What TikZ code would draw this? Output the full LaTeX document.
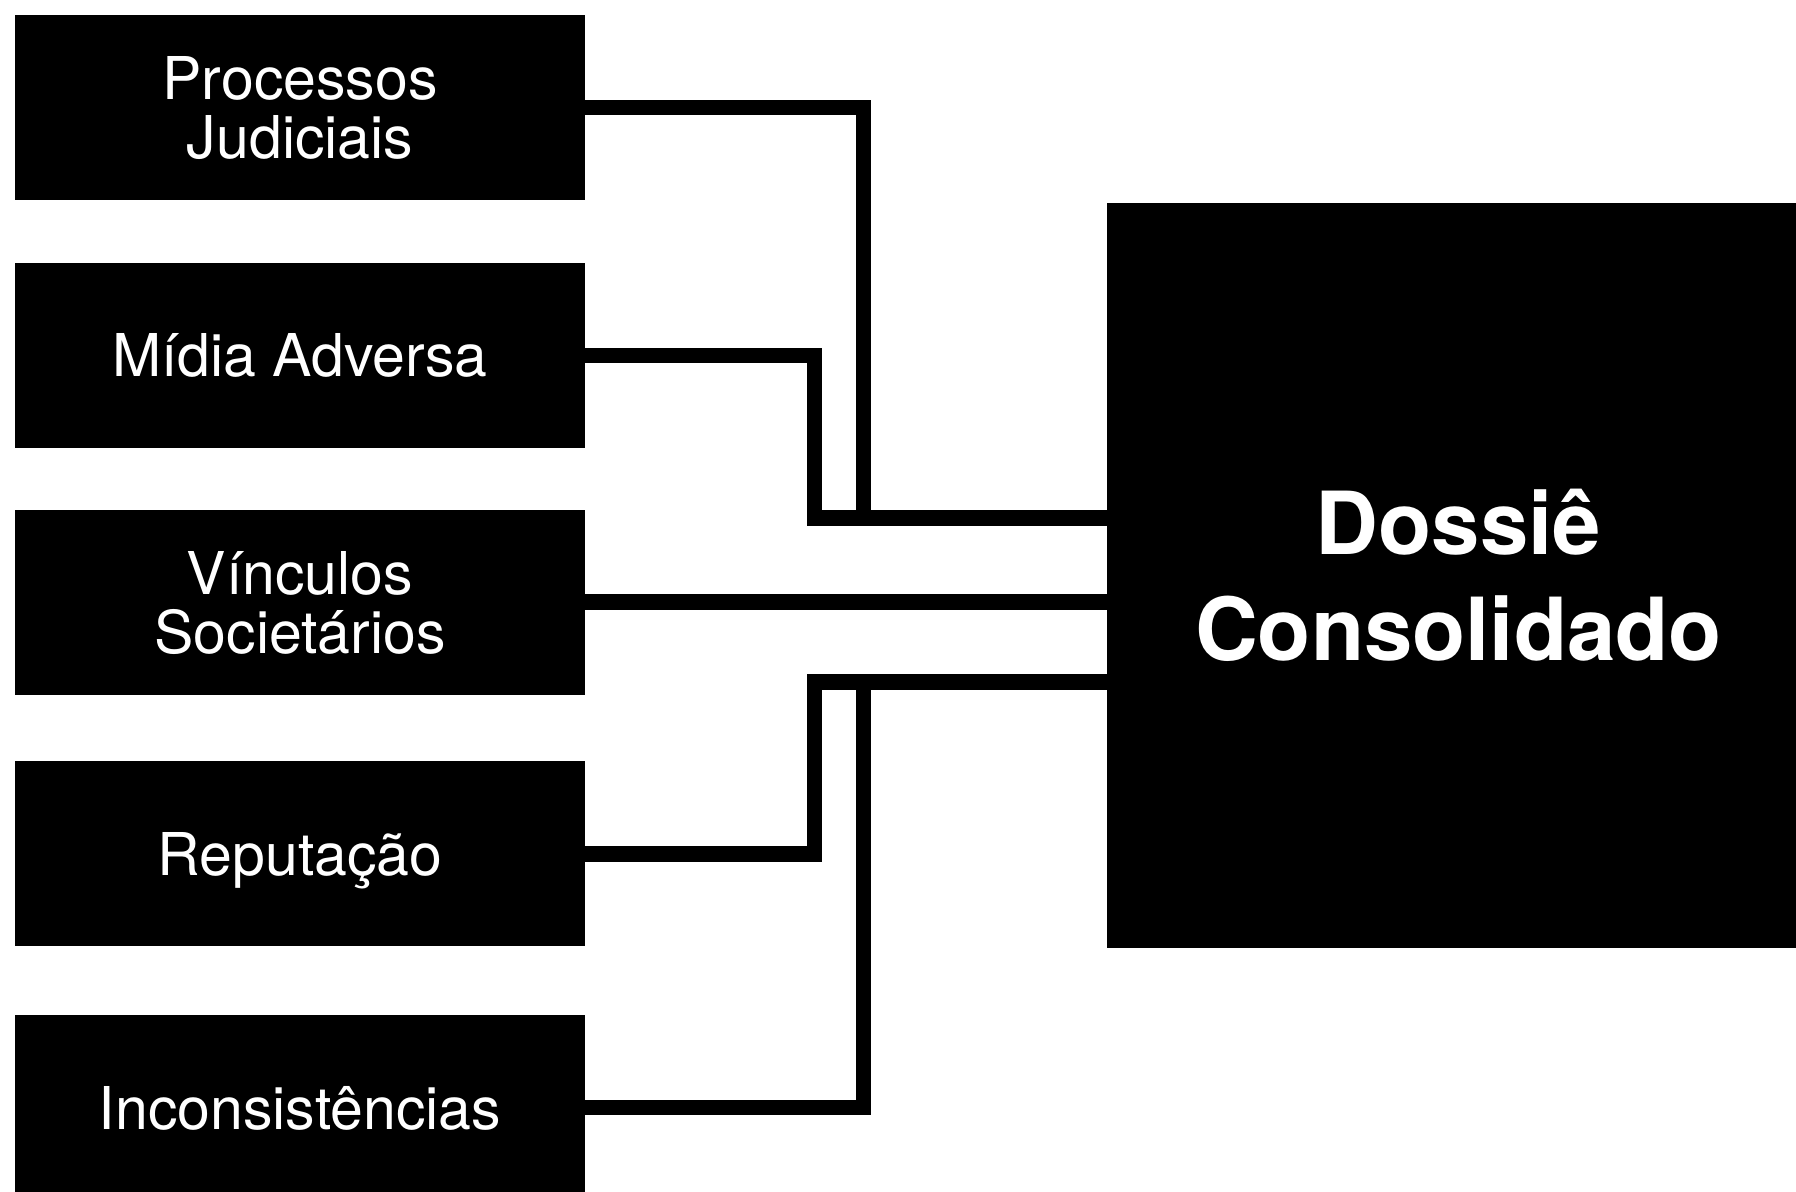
\documentclass[tikz,border=0pt]{standalone}
\usepackage{fontspec}
\setmainfont{TeX Gyre Heros}
\usetikzlibrary{positioning}
\newcommand{\capht}[1]{\smash{#1}\vphantom{H}}

\begin{document}
\begin{tikzpicture}[x=0.5pt,y=-0.5pt,node distance=32pt,
    fonte/.style={fill=black,text=white,inner sep=0pt,minimum width=285pt,minimum height=92.5pt,
      align=center,font=\fontsize{29.5pt}{29.5pt}\selectfont},
    dossie/.style={fill=black,text=white,inner sep=0pt,minimum width=351.5pt,minimum height=372.5pt,
      align=center,font=\bfseries\fontsize{43.5pt}{53pt}\selectfont},
    link/.style={line width=7.75pt}]
	\useasboundingbox (0,0) rectangle (1796,1191);
	\clip (0,0) rectangle (1796,1191);
	\node[fonte] (proc) at (300,107.5) {\capht{Processos}\\\capht{Judiciais}};
	\node[fonte] (midia) [below=31pt of proc] {\capht{Mídia Adversa}};
	\node[fonte] (vinc) [below=30.5pt of midia] {\capht{Vínculos}\\\capht{Societários}};
	\node[fonte] (reput) [below=33pt of vinc] {\capht{Reputação}};
	\node[fonte] (incons) [below=34pt of reput] {\capht{Inconsistências}};
	\node[dossie] (dos) at (1458.5,575.5) {\capht{Dossiê}\\\capht{Consolidado}};
	\coordinate (j1) at ([yshift=28.75pt]dos.west);
	\coordinate (j2) at ([yshift=-53.25pt]dos.west);
	\draw[link] (proc.east) -| ([xshift=-121.5pt]j1) -- (j1);
	\draw[link] (midia.east) -| ([xshift=-146pt]j1) -- (j1);
	\draw[link] (vinc.east) -- (vinc.east -| dos.west);
	\draw[link] (reput.east) -| ([xshift=-146pt]j2) -- (j2);
	\draw[link] (incons.east) -| ([xshift=-121.5pt]j2) -- (j2);
\end{tikzpicture}
\end{document}
